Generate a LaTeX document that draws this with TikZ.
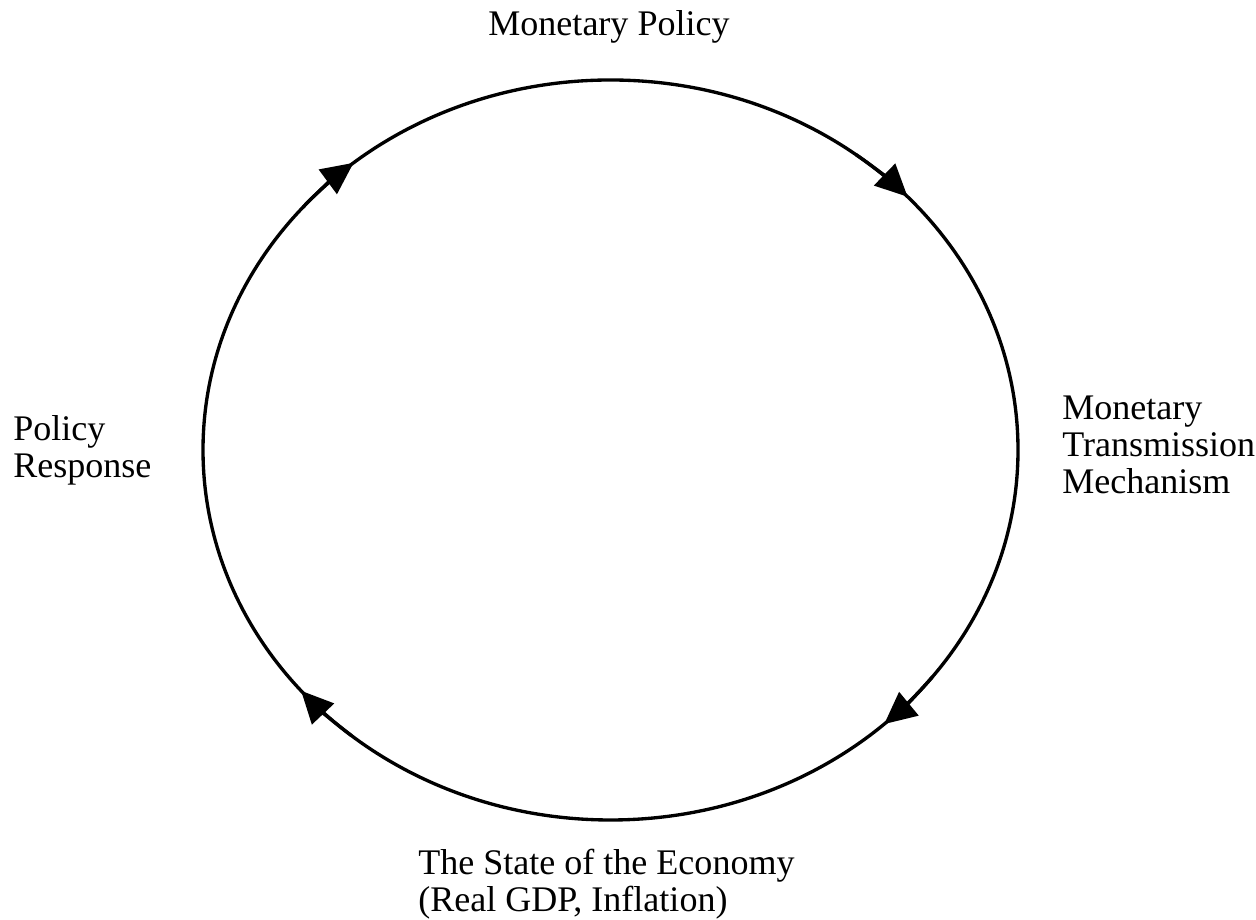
\documentclass[tikz,border=0pt]{standalone}
\usepackage{fontspec}
\setmainfont{Liberation Serif}
\usetikzlibrary{arrows.meta}

\begin{document}
\begin{tikzpicture}[
  font=\fontsize{20.5}{21}\selectfont,
  >={Triangle[length=6.4mm, width=6mm]},
  txt/.style={inner sep=0pt, align=left},
  ring/.style={line width=1.9pt},
  flow/.style={->, line width=1.9pt}
]
\useasboundingbox (0,0) rectangle (25.12,18.4);

%% ============ Labels round the cycle ============
\node[txt, anchor=base] (policy)       at (12.18,17.68) {Monetary Policy};
\node[txt, anchor=west] (transmission) at (21.24,9.5)   {Monetary\\Transmission\\Mechanism};
\node[txt, anchor=west] (economy)      at (8.36,0.72)   {The State of the Economy\\(Real GDP, Inflation)};
\node[txt, anchor=west] (response)     at (0.26,9.4)    {Policy\\Response};

%% ============ The cycle itself ============
\coordinate (ctr) at (12.21,9.4);
\draw[ring] (ctr) ellipse [x radius=8.15, y radius=7.4];

%% clockwise arrow heads sitting on the ring
\draw[flow] (ctr) ++(53:8.15 and 7.4)    arc[start angle=53,    end angle=43.2,  x radius=8.15, y radius=7.4];
\draw[flow] (ctr) ++(322.2:8.15 and 7.4) arc[start angle=322.2, end angle=312.2, x radius=8.15, y radius=7.4];
\draw[flow] (ctr) ++(230.6:8.15 and 7.4) arc[start angle=230.6, end angle=220.6, x radius=8.15, y radius=7.4];
\draw[flow] (ctr) ++(139:8.15 and 7.4)   arc[start angle=139,   end angle=129.1, x radius=8.15, y radius=7.4];

\end{tikzpicture}
\end{document}
